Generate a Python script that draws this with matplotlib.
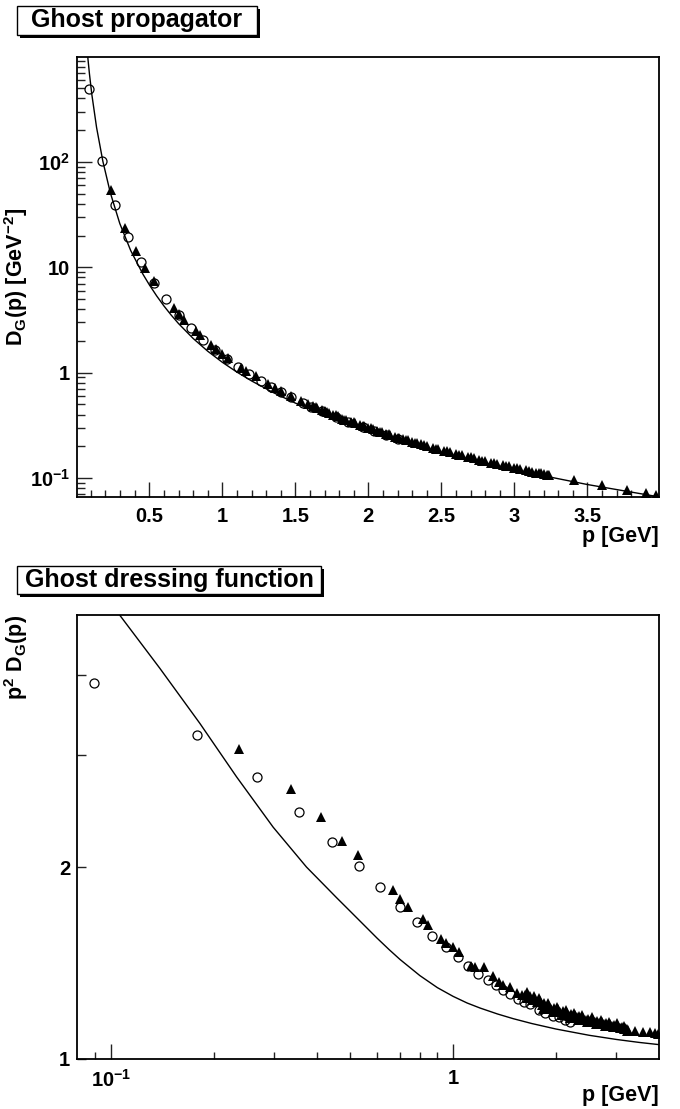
"""Ghost propagator and ghost dressing function, ROOT-style two panel figure."""
import matplotlib
matplotlib.use("Agg")
import matplotlib.pyplot as plt
from matplotlib import font_manager
from matplotlib.patches import Rectangle
from matplotlib.ticker import FixedLocator, FixedFormatter, NullFormatter
import numpy as np

# lattice data set 1 (open circles): momentum p [GeV], dressing p^2 D_G(p)
circ_p = np.array([0.089, 0.178, 0.267, 0.355, 0.444, 0.531, 0.612, 0.700, 0.786,
                   0.870, 0.952, 1.034, 1.108, 1.186, 1.263, 1.336, 1.40, 1.47,
                   1.55, 1.61, 1.68, 1.78, 1.86, 1.96, 2.04, 2.12, 2.20])
circ_J = np.array([3.89, 3.22, 2.77, 2.44, 2.19, 2.01, 1.86, 1.73, 1.64,
                   1.56, 1.50, 1.445, 1.40, 1.36, 1.33, 1.306, 1.283, 1.263,
                   1.24, 1.227, 1.218, 1.193, 1.182, 1.170, 1.162, 1.153, 1.145])

# lattice data set 2 (filled triangles)
tri_p = np.array([0.237, 0.335, 0.411, 0.473, 0.529, 0.668, 0.701, 0.740, 0.819,
                  0.847, 0.922, 0.954, 0.997, 1.039, 1.13, 1.16, 1.23, 1.31,
                  1.36, 1.40, 1.47, 1.54, 1.59,
                  1.62, 1.65, 1.68, 1.70, 1.73, 1.76, 1.79, 1.82, 1.85, 1.88,
                  1.91, 1.94, 1.97, 2.00, 2.03, 2.06, 2.09, 2.12, 2.15, 2.18,
                  2.21, 2.24, 2.27, 2.30, 2.33, 2.36, 2.40, 2.44, 2.48, 2.52,
                  2.56, 2.60, 2.64, 2.68, 2.72, 2.76, 2.80, 2.84, 2.88, 2.92,
                  2.96, 3.00, 3.04, 3.08, 3.12, 3.15, 3.18, 3.20, 3.22, 3.24,
                  1.64, 1.72, 1.78, 1.83, 1.90, 1.96, 2.02, 2.08, 2.14, 2.20,
                  2.26, 2.32, 2.38, 2.46, 2.54, 2.62, 2.70, 2.78, 2.86, 2.94,
                  3.02, 3.10, 3.17, 3.23,
                  3.41, 3.60, 3.77, 3.90, 3.97])
tri_J = np.array([3.06, 2.65, 2.40, 2.20, 2.09, 1.84, 1.78, 1.73, 1.66,
                  1.62, 1.54, 1.52, 1.50, 1.47, 1.40, 1.395, 1.395, 1.35,
                  1.32, 1.306, 1.298, 1.267, 1.26,
                  1.262, 1.248, 1.255, 1.236, 1.240, 1.228, 1.232, 1.215, 1.222, 1.206,
                  1.212, 1.198, 1.203, 1.190, 1.196, 1.183, 1.188, 1.175, 1.182, 1.170,
                  1.176, 1.166, 1.172, 1.162, 1.167, 1.158, 1.160, 1.152, 1.155, 1.147,
                  1.150, 1.143, 1.146, 1.139, 1.142, 1.135, 1.137, 1.131, 1.133, 1.127,
                  1.129, 1.124, 1.125, 1.120, 1.121, 1.116, 1.117, 1.113, 1.114, 1.110,
                  1.275, 1.255, 1.245, 1.200, 1.224, 1.185, 1.208, 1.172, 1.195, 1.160,
                  1.182, 1.152, 1.172, 1.143, 1.163, 1.136, 1.152, 1.128, 1.145, 1.122,
                  1.138, 1.117, 1.128, 1.107,
                  1.108, 1.104, 1.101, 1.097, 1.093])

# fit curve of the dressing function
fit_p = np.array([0.07, 0.08, 0.09, 0.1062, 0.139, 0.182, 0.233, 0.298, 0.373,
                  0.457, 0.50, 0.55, 0.60, 0.65, 0.70, 0.80, 0.90, 1.00, 1.10,
                  1.20, 1.35, 1.50, 1.70, 2.00, 2.50, 3.00, 3.50, 4.00])
fit_J = np.array([6.70, 6.07, 5.58, 4.965, 4.10, 3.36, 2.77, 2.31, 2.00,
                  1.79, 1.706, 1.621, 1.547, 1.485, 1.4325, 1.3515, 1.294, 1.254, 1.224,
                  1.202, 1.1764, 1.1567, 1.1366, 1.1143, 1.0894, 1.0732, 1.0617, 1.0533])

top_yticks = [0.1, 1, 10, 100]
top_ylabels = [r"$\mathbf{10^{-1}}$", "1", "10", r"$\mathbf{10^{2}}$"]
top_xticks = [0.5, 1, 1.5, 2, 2.5, 3, 3.5]
top_xlabels = ["0.5", "1", "1.5", "2", "2.5", "3", "3.5"]
bot_xticks = [0.1, 1]
bot_xlabels = [r"$\mathbf{10^{-1}}$", "1"]
bot_yticks = [1, 2]
bot_ylabels = ["1", "2"]

plt.rcParams["font.family"] = ["Liberation Sans", "DejaVu Sans"]
plt.rcParams["font.weight"] = "bold"
plt.rcParams["mathtext.fontset"] = "custom"
plt.rcParams["mathtext.rm"] = "Liberation Sans:bold"
plt.rcParams["mathtext.bf"] = "Liberation Sans:bold"
plt.rcParams["mathtext.it"] = "Liberation Sans:bold"

# titles are set in a condensed Helvetica; use the narrow face if present
installed = {f.name for f in font_manager.fontManager.ttflist}
if "Liberation Sans Narrow" in installed:
    TITLE_FONT, TITLE_SIZE = "Liberation Sans Narrow", 21.5
else:
    TITLE_FONT, TITLE_SIZE = "Liberation Sans", 18

W, H = 680, 1109
fig = plt.figure(figsize=(W / 100, H / 100), dpi=100)


def px_axes(x0, y0, x1, y1):
    return fig.add_axes([x0 / W, 1 - y1 / H, (x1 - x0) / W, (y1 - y0) / H])


def title_box(x0, y0, x1, y1, text):
    sh = 3
    fig.add_artist(Rectangle((x0 / W + sh / W, 1 - y1 / H - sh / H), (x1 - x0) / W, (y1 - y0) / H,
                             transform=fig.transFigure, facecolor="black", edgecolor="black", lw=0))
    fig.add_artist(Rectangle((x0 / W, 1 - y1 / H), (x1 - x0) / W, (y1 - y0) / H,
                             transform=fig.transFigure, facecolor="white", edgecolor="black", lw=1))
    fig.text((x0 + x1) / 2 / W, 1 - (y0 + y1) / 2 / H, text, ha="center", va="center",
             fontsize=TITLE_SIZE, fontweight="bold", family=TITLE_FONT)


def style(ax):
    for s in ax.spines.values():
        s.set_linewidth(1.3)
    ax.tick_params(which="both", direction="in", top=False, right=False,
                   labelsize=14.5, width=1, color="#222222")
    ax.tick_params(axis="x", which="major", length=10.5, pad=7)
    ax.tick_params(axis="x", which="minor", length=5.3)
    ax.yaxis.set_minor_formatter(NullFormatter())
    ax.xaxis.set_minor_formatter(NullFormatter())


# ---- top: propagator
ax1 = px_axes(77, 57, 659, 497)
ax1.plot(fit_p, fit_J / fit_p ** 2, color="black", lw=1)
ax1.plot(circ_p, circ_J / circ_p ** 2, "o", mfc="none", mec="black", ms=6.5, mew=0.9)
ax1.plot(tri_p, tri_J / tri_p ** 2, "^", color="black", ms=6.5, mew=0)
ax1.set_yscale("log")
ax1.set_xlim(0.005, 3.99)
ax1.set_ylim(0.066, 990)
style(ax1)
ax1.yaxis.set_major_locator(FixedLocator(top_yticks))
ax1.yaxis.set_major_formatter(FixedFormatter(top_ylabels))
ax1.yaxis.set_minor_locator(FixedLocator([m * 10.0 ** e for e in range(-2, 3) for m in range(2, 10)]))
ax1.tick_params(axis="y", which="major", length=10.5, pad=5)
ax1.tick_params(axis="y", which="minor", length=5.5)
ax1.xaxis.set_major_locator(FixedLocator(top_xticks))
ax1.xaxis.set_major_formatter(FixedFormatter(top_xlabels))
ax1.xaxis.set_minor_locator(FixedLocator(np.arange(0.1, 4.0, 0.1)))
ax1.set_xlabel("p [GeV]", fontsize=15.5, fontweight="bold", loc="right")
ax1.xaxis.set_label_coords(1.0, -0.065)
ax1.set_ylabel(r"$\mathbf{D_{G}(p)\ [GeV^{-2}]}$", fontsize=15.5)
ax1.yaxis.set_label_coords(-0.08, 0.5)

# ---- bottom: dressing function
ax2 = px_axes(77, 615, 659, 1059)
ax2.plot(fit_p, fit_J, color="black", lw=1)
ax2.plot(circ_p, circ_J, "o", mfc="none", mec="black", ms=6.5, mew=0.9)
ax2.plot(tri_p, tri_J, "^", color="black", ms=6.5, mew=0)
ax2.set_xscale("log")
ax2.set_yscale("log")
ax2.set_xlim(0.0796, 4.0)
ax2.set_ylim(1.0, 4.97)
style(ax2)
ax2.xaxis.set_major_locator(FixedLocator(bot_xticks))
ax2.xaxis.set_major_formatter(FixedFormatter(bot_xlabels))
ax2.xaxis.set_minor_locator(FixedLocator([0.09, 0.2, 0.3, 0.4, 0.5, 0.6, 0.7, 0.8, 0.9, 2, 3]))
ax2.yaxis.set_major_locator(FixedLocator(bot_yticks))
ax2.yaxis.set_major_formatter(FixedFormatter(bot_ylabels))
ax2.yaxis.set_minor_locator(FixedLocator([3, 4]))
ax2.tick_params(axis="y", which="both", length=6.3, pad=5)
ax2.set_xlabel("p [GeV]", fontsize=15.5, fontweight="bold", loc="right")
ax2.xaxis.set_label_coords(1.0, -0.058)
ax2.set_ylabel(r"$\mathbf{p^{2}\ D_{G}(p)}$", fontsize=15.5, loc="top")
ax2.yaxis.set_label_coords(-0.08, 1.0)

title_box(17, 6, 257, 35, "Ghost propagator")
title_box(17, 566, 321, 594, "Ghost dressing function")

fig.savefig("out.png", dpi=100)
